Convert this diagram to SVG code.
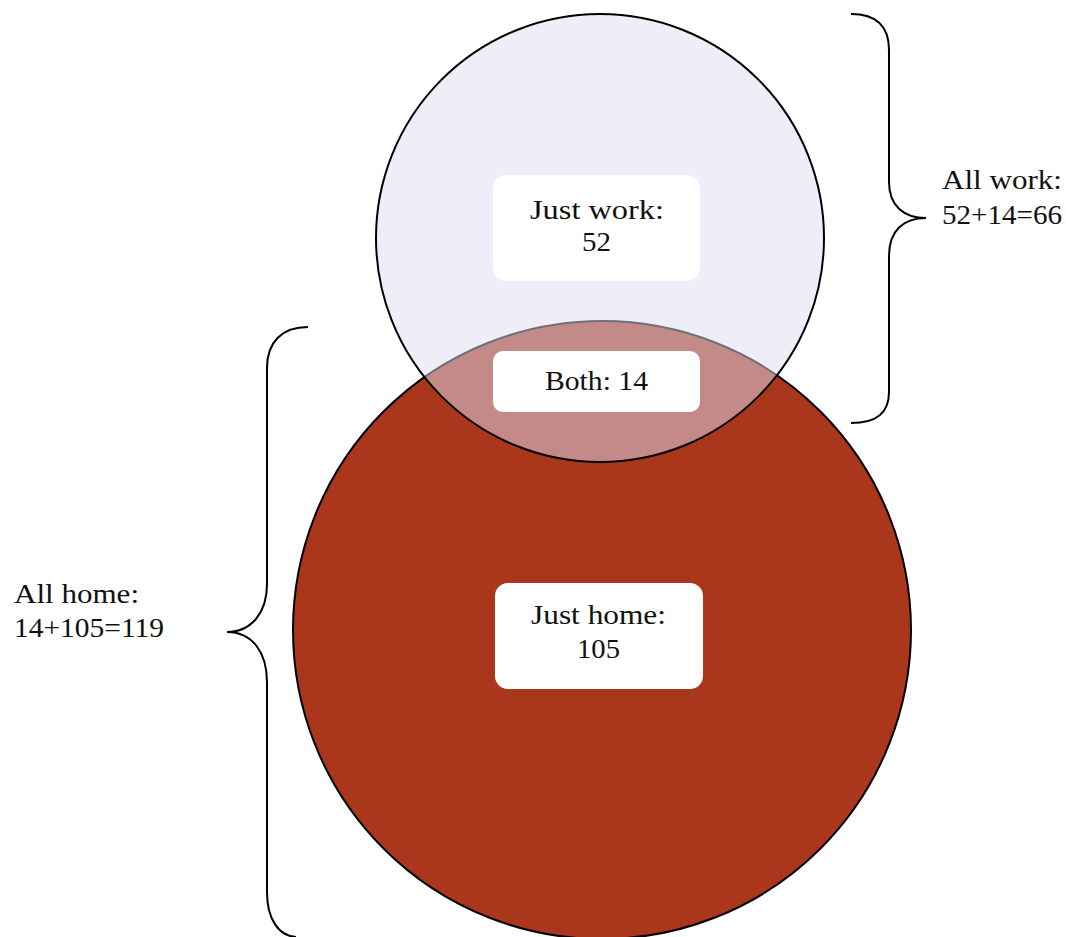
<svg xmlns="http://www.w3.org/2000/svg" width="1066" height="937" viewBox="0 0 1066 937">
<style>
.t{font-family:"Liberation Serif","Times New Roman",serif;font-size:28px;fill:#111}
.box{fill:#fff}
.br{fill:none;stroke:#000;stroke-width:2}
</style>
<rect width="1066" height="937" fill="#fff"/>
<g id="home">
<circle cx="602" cy="630" r="309" fill="#AA361B" stroke="#000" stroke-width="2"/>
</g>
<g id="work">
<circle cx="600" cy="238" r="224" fill="rgb(221,221,243)" fill-opacity="0.5" stroke="none"/>
<circle cx="600" cy="238" r="224" fill="none" stroke="#000" stroke-width="2"/>
</g>
<g id="just-work">
<rect class="box" x="493" y="175" width="207" height="106" rx="13"/>
<text class="t" x="530" y="219" textLength="134" lengthAdjust="spacingAndGlyphs">Just work:</text>
<text class="t" x="582" y="251" textLength="29" lengthAdjust="spacingAndGlyphs">52</text>
</g>
<g id="both">
<rect class="box" x="493" y="351" width="207" height="61" rx="10"/>
<text class="t" x="545" y="390" textLength="103" lengthAdjust="spacingAndGlyphs">Both: 14</text>
</g>
<g id="just-home">
<rect class="box" x="495" y="583" width="208" height="106" rx="13"/>
<text class="t" x="531" y="624" textLength="135" lengthAdjust="spacingAndGlyphs">Just home:</text>
<text class="t" x="577" y="658" textLength="43" lengthAdjust="spacingAndGlyphs">105</text>
</g>
<g id="connectors">
<path class="br" d="M851,14 C878,14 889,28 889,50 L889,182 C889,206 904,218 926,218 C904,218 889,230 889,256 L889,392 C889,412 878,423 851,423"/>
<path class="br" d="M308,327 C282,327 267,342 267,368 L267,584 C267,612 252,632 227,632 C252,632 267,652 267,682 L267,892 C267,918 278,936 296,937"/>
</g>
<g id="all-work">
<text class="t" x="942" y="189" textLength="120" lengthAdjust="spacingAndGlyphs">All work:</text>
<text class="t" x="942" y="224" textLength="120" lengthAdjust="spacingAndGlyphs">52+14=66</text>
</g>
<g id="all-home">
<text class="t" x="14" y="603" textLength="125" lengthAdjust="spacingAndGlyphs">All home:</text>
<text class="t" x="14" y="637" textLength="150" lengthAdjust="spacingAndGlyphs">14+105=119</text>
</g>
</svg>
